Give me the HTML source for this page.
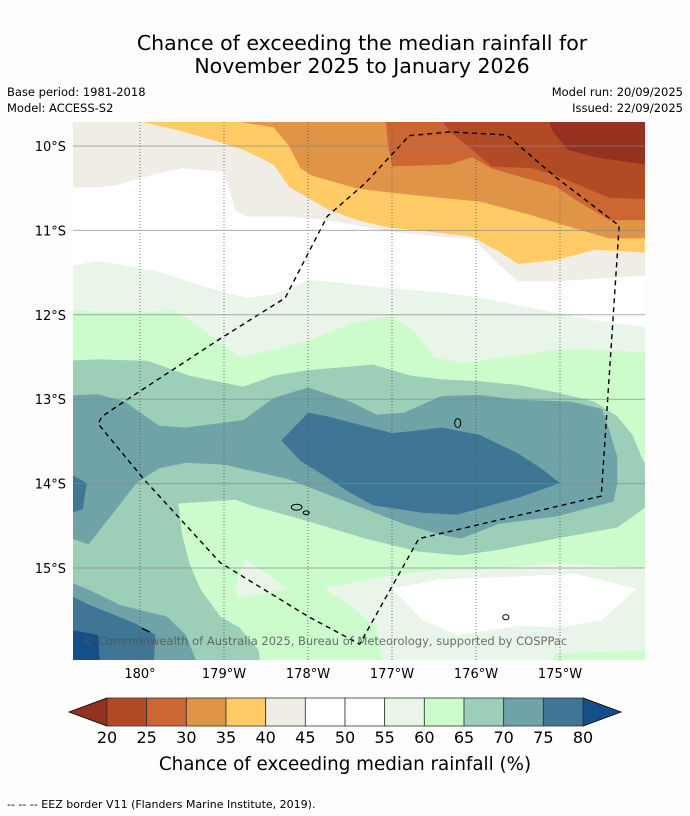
<!DOCTYPE html>
<html><head><meta charset="utf-8"><style>
body{margin:0;background:#fdfdfd;}
svg{display:block;font-family:"DejaVu Sans","Liberation Sans",sans-serif;}
</style></head><body>
<svg id="chart" width="690" height="816" viewBox="0 0 690 816">
<rect x="0" y="0" width="690" height="816" fill="#fdfdfd"/>
<text x="362" y="50" font-size="20.5" text-anchor="middle" fill="#000">Chance of exceeding the median rainfall for</text>
<text x="362" y="73" font-size="20.5" text-anchor="middle" fill="#000">November 2025 to January 2026</text>
<text x="7" y="96" font-size="11.5">Base period: 1981-2018</text>
<text x="7" y="112" font-size="11.5">Model: ACCESS-S2</text>
<text x="683" y="96" font-size="11.5" text-anchor="end">Model run: 20/09/2025</text>
<text x="683" y="112" font-size="11.5" text-anchor="end">Issued: 22/09/2025</text>

<defs><clipPath id="mapclip"><rect x="73" y="122" width="572" height="538"/></clipPath></defs>
<g clip-path="url(#mapclip)">
<g transform="translate(60,109) scale(0.3817,0.3704)">
<rect x="0" y="0" width="1600" height="1600" fill="#ccfccc"/>
<polygon fill="#eaf5ea" points="0,0 1600,0 1600,660 1400,650 1300,650 1200,665 1050,685 980,670 920,590 860,560 760,580 650,625 560,650 470,670 380,600 300,545 200,548 100,548 0,540"/>
<polygon fill="#ffffff" points="0,0 1600,0 1600,598 1400,570 1300,550 1200,530 1100,510 1000,495 870,485 700,465 650,462 560,500 490,510 380,480 260,440 160,420 100,410 0,430"/>
<polygon fill="#f0ece6" points="0,0 1600,0 1600,445 1300,465 1200,465 1150,420 1080,350 1000,345 860,330 700,300 600,290 490,290 460,275 430,170 320,160 250,175 150,205 100,212 0,212"/>
<polygon fill="#fecb66" points="200,0 1600,0 1600,392 1400,380 1300,408 1200,418 1150,385 1080,345 960,330 860,320 780,300 700,270 600,210 560,150 480,110 420,90 300,55 200,32"/>
<polygon fill="#e09448" points="455,0 1600,0 1600,348 1440,350 1310,310 1230,285 1100,250 950,235 860,225 780,215 660,180 630,160 600,100 560,50 455,32"/>
<polygon fill="#cc6633" points="850,0 1600,0 1600,300 1440,300 1350,245 1300,210 1230,190 1130,160 1080,130 1020,150 870,155 860,100"/>
<polygon fill="#b34a26" points="980,0 1600,0 1600,245 1440,240 1300,180 1240,160 1130,155 1080,110 1020,60"/>
<polygon fill="#95321f" points="1270,0 1600,0 1600,160 1400,130 1330,110 1290,60"/>
<polygon fill="#9dcfb8" points="0,680 100,676 230,680 340,720 480,750 560,720 650,705 820,690 920,720 1000,730 1100,735 1200,745 1300,765 1400,790 1460,830 1500,880 1528,950 1600,1000 1528,1080 1460,1130 1300,1160 1150,1190 1050,1205 940,1195 800,1160 640,1110 500,1070 460,1055 310,1065 320,1150 340,1230 370,1300 420,1370 470,1400 520,1460 540,1600 0,1600"/>
<polygon fill="#6fa3a8" points="0,775 100,770 170,790 260,855 330,860 480,840 560,780 650,752 760,790 830,825 900,820 1000,775 1100,772 1200,785 1340,790 1420,810 1440,870 1460,940 1460,1010 1450,1060 1300,1100 1150,1120 1050,1160 1000,1150 900,1120 800,1080 700,1040 600,1000 430,960 330,955 260,970 200,1010 140,1090 75,1175 0,1150"/>
<polygon fill="#6fa3a8" points="0,1265 80,1300 160,1340 280,1370 330,1420 400,1600 0,1600"/>
<polygon fill="#3f7595" points="0,970 70,1010 60,1080 0,1100"/>
<polygon fill="#3f7595" points="0,1300 80,1340 200,1390 250,1420 240,1600 0,1600"/>
<polygon fill="#164f88" points="0,1400 100,1420 110,1600 0,1600"/>
<polygon fill="#3f7595" points="580,895 650,820 700,830 870,875 920,870 1000,860 1100,880 1200,930 1260,970 1310,1010 1200,1050 1040,1095 950,1090 820,1070 750,1030 700,995 630,950"/>
<polygon fill="#eaf5ea" points="690,1295 860,1260 1000,1245 1150,1240 1300,1225 1600,1245 1600,1460 1300,1470 1200,1600 860,1600 830,1400 760,1340"/>
<polygon fill="#eaf5ea" points="460,1290 485,1215 595,1295 465,1320"/>
<polygon fill="#ffffff" points="870,1295 1000,1270 1200,1262 1350,1255 1510,1295 1420,1380 1300,1400 1200,1395 1040,1420 950,1380"/>
<polyline fill="none" stroke="#000" stroke-width="1.4" stroke-dasharray="5,4" vector-effect="non-scaling-stroke" points="915,72 1020,62 1170,70 1300,185 1465,315 1418,1045 940,1160 785,1445 650,1370 420,1225 220,1000 100,850 110,830 190,775 420,620 590,510 700,290 800,200 915,72"/>
<ellipse cx="1042" cy="848" rx="8" ry="12" fill="none" stroke="#000" vector-effect="non-scaling-stroke"/>
<ellipse cx="620" cy="1075" rx="14" ry="8" fill="none" stroke="#000" vector-effect="non-scaling-stroke"/>
<ellipse cx="645" cy="1090" rx="8" ry="5" fill="none" stroke="#000" vector-effect="non-scaling-stroke"/>
<ellipse cx="1168" cy="1372" rx="8" ry="7" fill="none" stroke="#000" vector-effect="non-scaling-stroke"/>
<line x1="215" y1="1402" x2="235" y2="1412" stroke="#000" stroke-width="1.5" vector-effect="non-scaling-stroke"/>
</g>
<g id="grid"></g>
<text x="83" y="645" font-size="11.5" fill="#555" fill-opacity="0.85">© Commonwealth of Australia 2025, Bureau of Meteorology, supported by COSPPac</text>
</g>
<g id="axislabels"></g>
<g id="colorbar"></g>
<text x="345" y="770" font-size="18.3" text-anchor="middle">Chance of exceeding median rainfall (%)</text>
<text x="7" y="808" font-size="11">--  --  -- EEZ border V11 (Flanders Marine Institute, 2019).</text>
</svg>
<script>
const lonLabels = ["180°","179°W","178°W","177°W","176°W","175°W"];
const lonValues = [180, 181, 182, 183, 184, 185];
const latLabels = ["10°S","11°S","12°S","13°S","14°S","15°S"];
const latValues = [10, 11, 12, 13, 14, 15];
const levels = [20,25,30,35,40,45,50,55,60,65,70,75,80];
const bandColors = ["#b34a26","#cc6633","#e09448","#fecb66","#f0ece6","#ffffff","#ffffff","#eaf5ea","#ccfccc","#9dcfb8","#6fa3a8","#3f7595"];
const NS="http://www.w3.org/2000/svg";
function xLon(v){return 140 + (v-180)*84;}
function yLat(v){return 146 + (v-10)*84.4;}
function mk(tag,attrs,parent){const e=document.createElementNS(NS,tag);for(const k in attrs)e.setAttribute(k,attrs[k]);parent.appendChild(e);return e;}
const grid=document.getElementById('grid'), al=document.getElementById('axislabels');
lonValues.forEach((v,i)=>{
  const l=mk('line',{x1:xLon(v),x2:xLon(v),y1:122,y2:660,stroke:'#555','stroke-width':0.8,'stroke-dasharray':'1,2'},grid);
  
  
  const t=mk('text',{x:xLon(v),y:678,'font-size':13,'text-anchor':'middle'},al);
  t.textContent=lonLabels[i];
  
  
});
latValues.forEach((v,i)=>{
  const l=mk('line',{x1:73,x2:645,y1:yLat(v),y2:yLat(v),stroke:'#888','stroke-opacity':0.7,'stroke-width':1},grid);
  
  
  const t=mk('text',{x:66,y:yLat(v)+5,'font-size':13,'text-anchor':'end'},al);
  t.textContent=latLabels[i];
  
  
});
const cb=document.getElementById('colorbar');
const cx0=107,cx1=583,cy0=698,cy1=726;
function xc(v){return cx0+(v-levels[0])/(levels[levels.length-1]-levels[0])*(cx1-cx0);}
const lt=mk('polygon',{points:`${cx0},${cy0} ${cx0},${cy1} 69,${(cy0+cy1)/2}`,fill:'#95321f',stroke:'#000','stroke-width':0.8},cb);


const rt=mk('polygon',{points:`${cx1},${cy0} ${cx1},${cy1} 621,${(cy0+cy1)/2}`,fill:'#164f88',stroke:'#000','stroke-width':0.8},cb);


for(let i=0;i<bandColors.length;i++){
  const r=mk('rect',{x:xc(levels[i]),y:cy0,width:xc(levels[i+1])-xc(levels[i]),height:cy1-cy0,fill:bandColors[i],stroke:'#333','stroke-width':0.8},cb);
  
  
}
levels.forEach(v=>{
  const t=mk('text',{x:xc(v),y:743,'font-size':16,'text-anchor':'middle'},cb);
  t.textContent=v;
  
  
});
</script>
</body></html>
